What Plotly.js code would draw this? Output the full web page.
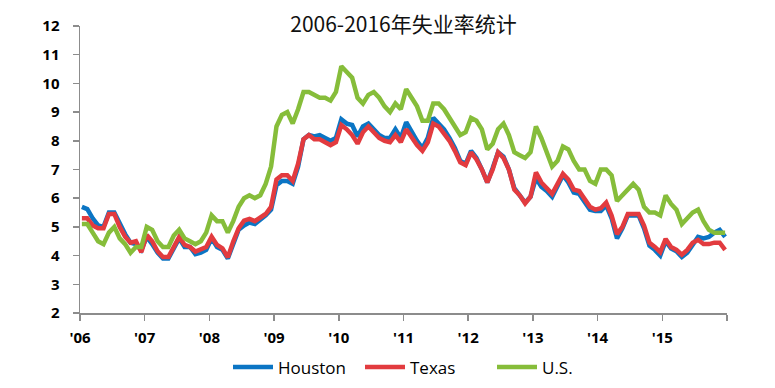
<!DOCTYPE html>
<html>
<head>
<meta charset="utf-8">
<script src="https://cdn.plot.ly/plotly-3.0.1.min.js"></script>
<style>html,body{margin:0;padding:0;background:#fff;}#chart{width:775px;height:388px;}</style>
</head>
<body>
<div id="chart"></div>
<script>
// Monthly unemployment rate, Jan 2006 .. Dec 2015 (not seasonally adjusted)
const yearLabels = ["'06","'07","'08","'09","'10","'11","'12","'13","'14","'15",""];

const houston = [
  5.7,5.62,5.3,5.05,5.0,5.5,5.5,5.1,4.75,4.45,4.4,4.2,
  4.65,4.4,4.1,3.9,3.9,4.25,4.6,4.3,4.3,4.05,4.1,4.2,
  4.6,4.3,4.2,3.9,4.45,4.9,5.05,5.15,5.1,5.25,5.4,5.6,
  6.45,6.6,6.6,6.5,7.1,8.05,8.2,8.15,8.2,8.1,8.0,8.1,
  8.75,8.6,8.55,8.15,8.5,8.6,8.4,8.2,8.1,8.1,8.4,8.1,
  8.65,8.3,8.0,7.75,8.1,8.8,8.6,8.4,8.1,7.75,7.3,7.2,
  7.65,7.4,7.0,6.55,7.05,7.6,7.45,7.0,6.35,6.1,5.85,6.05,
  6.7,6.4,6.25,6.05,6.4,6.8,6.55,6.2,6.15,5.85,5.6,5.55,
  5.55,5.75,5.3,4.6,4.95,5.4,5.4,5.4,4.95,4.35,4.2,4.0,
  4.5,4.25,4.15,3.95,4.1,4.4,4.65,4.6,4.65,4.8,4.9,4.65
];
const texas = [
  5.3,5.3,5.05,4.95,4.95,5.45,5.45,5.0,4.66,4.45,4.5,4.12,
  4.72,4.5,4.15,3.95,3.95,4.3,4.65,4.37,4.3,4.14,4.2,4.3,
  4.66,4.37,4.25,3.94,4.49,4.95,5.22,5.28,5.2,5.32,5.45,5.7,
  6.65,6.8,6.8,6.6,7.2,8.05,8.2,8.05,8.05,7.95,7.85,7.95,
  8.55,8.4,8.2,7.9,8.3,8.5,8.3,8.1,8.0,7.95,8.2,7.95,
  8.4,8.1,7.85,7.65,7.95,8.6,8.5,8.25,8.0,7.65,7.25,7.15,
  7.6,7.35,7.0,6.55,7.0,7.6,7.4,7.0,6.3,6.1,5.82,6.05,
  6.9,6.55,6.35,6.15,6.5,6.85,6.65,6.3,6.25,5.95,5.7,5.6,
  5.65,5.85,5.4,4.75,5.0,5.45,5.45,5.45,5.05,4.45,4.3,4.12,
  4.58,4.3,4.2,4.03,4.2,4.45,4.55,4.4,4.4,4.45,4.45,4.2
];
const us = [
  5.1,5.1,4.8,4.5,4.4,4.8,5.0,4.6,4.4,4.1,4.3,4.3,
  5.0,4.9,4.5,4.3,4.3,4.7,4.9,4.6,4.5,4.4,4.5,4.8,
  5.4,5.2,5.2,4.8,5.2,5.7,6.0,6.1,6.0,6.1,6.5,7.1,
  8.5,8.9,9.0,8.6,9.1,9.7,9.7,9.6,9.5,9.5,9.4,9.7,
  10.6,10.4,10.2,9.5,9.3,9.6,9.7,9.5,9.2,9.0,9.3,9.1,
  9.8,9.5,9.2,8.7,8.7,9.3,9.3,9.1,8.8,8.5,8.2,8.3,
  8.8,8.7,8.4,7.7,7.9,8.4,8.6,8.2,7.6,7.5,7.4,7.6,
  8.5,8.1,7.6,7.1,7.3,7.8,7.7,7.3,7.0,7.0,6.6,6.5,
  7.0,7.0,6.8,5.9,6.1,6.3,6.5,6.3,5.7,5.5,5.5,5.4,
  6.1,5.8,5.6,5.1,5.3,5.5,5.6,5.2,4.9,4.8,4.8,4.8
];
const seriesNames = ["Houston","Texas","U.S."];
const seriesColors = ["#0B75C4","#E23B3F","#86BD3A"];

const months = houston.map((_, i) => i);
const xr = [-0.35, months.length - 1 + 0.35];
const tickvals = yearLabels.map((_, k) => xr[0] + k * (xr[1] - xr[0]) / 10);

const traces = [houston, texas, us].map((ys, i) => ({
  x: months, y: ys, type: 'scatter', mode: 'lines', name: seriesNames[i],
  line: {color: seriesColors[i], width: 4.5, shape: 'linear'},
  hoverinfo: 'skip'
}));

const tickFont = {family: 'Open Sans, DejaVu Sans, sans-serif', size: 15, color: '#000', weight: 700};

const layout = {
  width: 775, height: 388,
  margin: {l: 80, r: 48, t: 26, b: 75, autoexpand: false},
  paper_bgcolor: '#fff', plot_bgcolor: '#fff',
  title: {
    text: '2006-2016年失业率统计',
    font: {family: 'Noto Sans CJK SC, Noto Sans, sans-serif', size: 21, color: '#111'},
    x: 0.5, xref: 'paper', xanchor: 'center',
    y: 1 - 25/388, yref: 'container', yanchor: 'middle'
  },
  xaxis: {
    range: xr, tickmode: 'array', tickvals: tickvals, ticktext: yearLabels,
    showgrid: false, zeroline: false, showline: true, linecolor: '#8c8c8c', linewidth: 1.5,
    ticks: 'outside', ticklen: 6, tickcolor: '#8c8c8c', tickwidth: 1.5,
    tickfont: tickFont, ticklabelstandoff: 4, automargin: false
  },
  yaxis: {
    range: [2, 12], tickmode: 'linear', tick0: 2, dtick: 1,
    showgrid: false, zeroline: false, showline: true, linecolor: '#8c8c8c', linewidth: 1.5,
    ticks: 'outside', ticklen: 6, tickcolor: '#8c8c8c', tickwidth: 1.5,
    tickfont: tickFont, ticklabelstandoff: 10, automargin: false
  },
  showlegend: true,
  legend: {
    orientation: 'h', x: (228 - 80) / 647, xanchor: 'left', y: -0.19, yanchor: 'middle',
    font: {family: 'Open Sans, DejaVu Sans, sans-serif', size: 17, color: '#000'},
    itemwidth: 40, entrywidth: 77, entrywidthmode: 'pixels',
    bgcolor: 'rgba(0,0,0,0)'
  }
};

Plotly.newPlot('chart', traces, layout, {displayModeBar: false, staticPlot: true});
</script>
</body>
</html>
